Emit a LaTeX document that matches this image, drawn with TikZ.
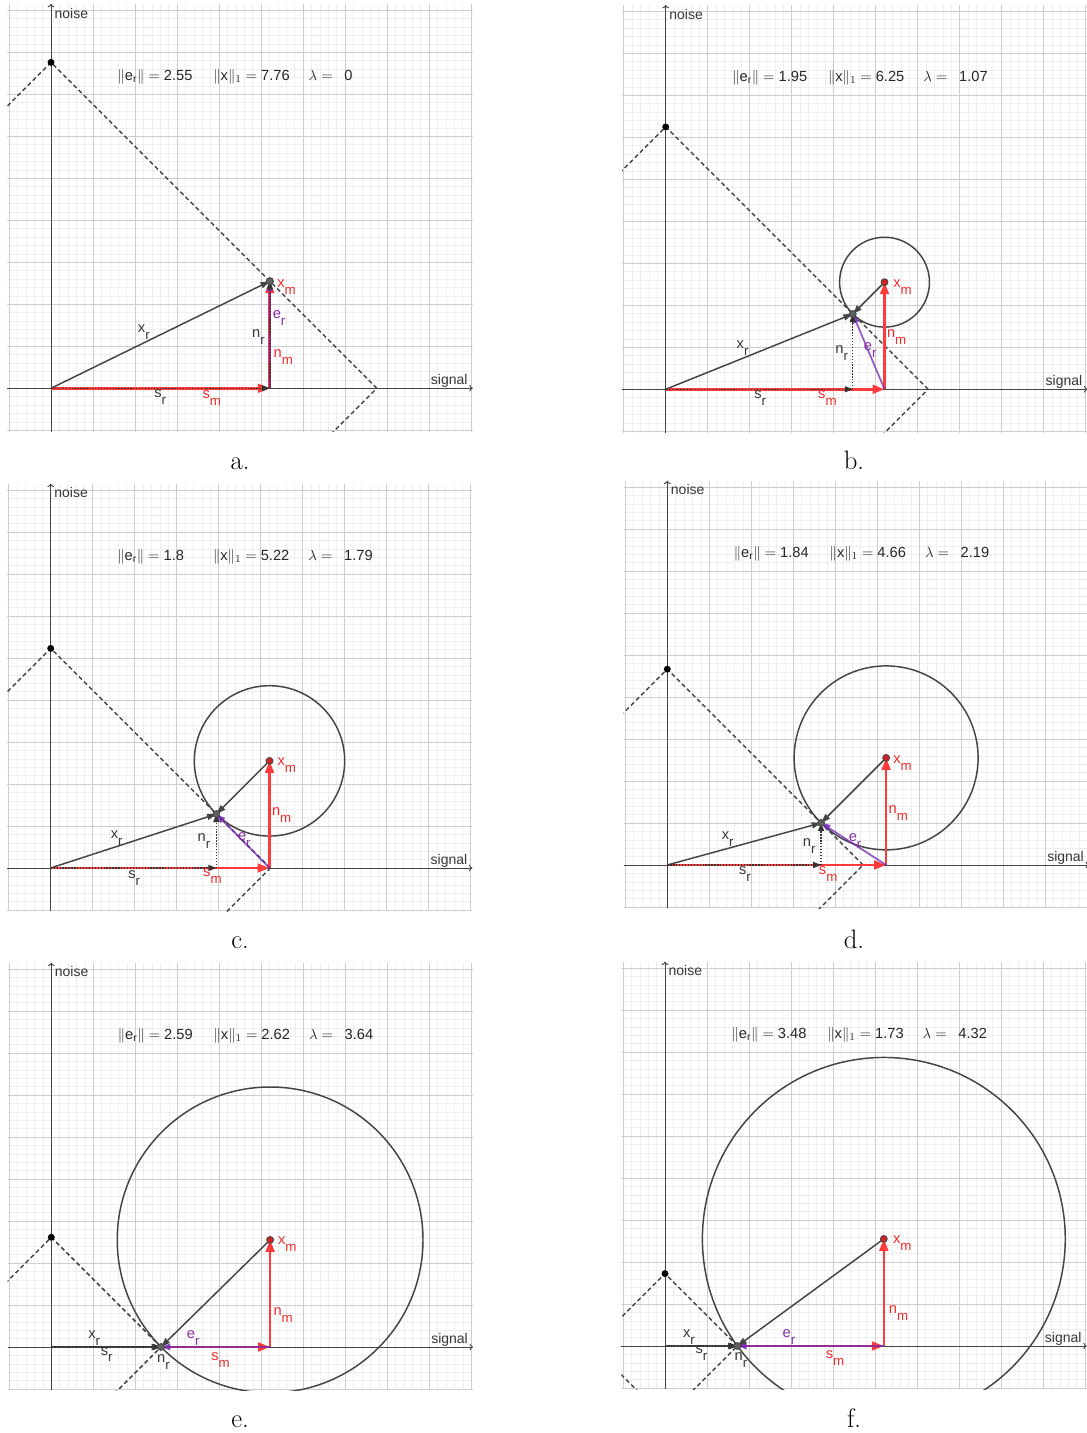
\documentclass[tikz,border=0pt]{standalone}
\usepackage{fontspec}
\setsansfont{Liberation Sans}
\usetikzlibrary{arrows.meta}
\definecolor{redC}{RGB}{255,58,58}
\definecolor{purC}{RGB}{112,38,178}
\definecolor{grayC}{RGB}{68,68,68}
\definecolor{majC}{RGB}{205,205,205}
\definecolor{minC}{RGB}{238,238,238}
\definecolor{labR}{RGB}{238,45,45}
\definecolor{labP}{RGB}{135,45,165}
\definecolor{labG}{RGB}{55,55,55}
\definecolor{ptR}{RGB}{205,35,35}
\newcommand\sbs[2]{#1\raisebox{-0.9ex}{\fontsize{10}{10}\selectfont #2}}
\tikzset{
 minorgrid/.style={draw=minC, line width=0.35pt},
 majorgrid/.style={draw=majC, line width=0.65pt},
 axisline/.style={draw=grayC, line width=0.7pt, -{To[length=2.5pt,width=5pt]}},
 diam/.style={draw=grayC, line width=1.1pt, dash pattern=on 3.2pt off 2.2pt},
 circ/.style={draw=grayC, line width=1.1pt},
 redvec/.style={draw=redC, line width=2pt, -{Triangle[length=9pt,width=6.5pt]}},
 purvec/.style={draw=purC, line width=1.3pt, opacity=0.75, -{Triangle[length=7pt,width=5pt]}},
 grayvec/.style={draw=grayC, line width=1.1pt, -{Triangle[length=7pt,width=4.6pt]}},
 dotvec/.style={draw=black!80, line width=1.1pt, dash pattern=on 1pt off 1.2pt, -{Triangle[length=6pt,width=4.5pt]}},
 lbl/.style={font=\sffamily\fontsize{11}{13}\selectfont, inner sep=0pt},
 hdr/.style={font=\sffamily\fontsize{11}{13}\selectfont, inner sep=0pt, anchor=base west, text=black!85},
 axlbl/.style={font=\sffamily\fontsize{10.5}{12}\selectfont, inner sep=0pt, anchor=base west, text=labG},
 tag/.style={font=\fontsize{20}{24}\selectfont, inner sep=0pt, anchor=base},
 xmpt/.style={fill=ptR, draw=grayC, line width=0.6pt},
 xrpt/.style={fill=grayC!85, draw=grayC, line width=0.6pt},
}
% #1 L1, #2 lambda
\newcommand\panelbg[2]{%
 \begin{scope}
  \clip (-1.04,-1.03) rectangle (10.04,9.15);
  \draw[minorgrid, step=0.2] (-1.04,-1.03) grid (10.04,9.15);
  \draw[majorgrid, step=1] (-1.04,-1.03) grid (10.04,9.15);
  \draw[diam] (#1,0) -- (0,#1) -- (-#1,0) -- (0,-#1) -- cycle;
  \ifdim #2pt>0pt \draw[circ] (XM) circle[radius=#2]; \fi
 \end{scope}
 \draw[axisline] (-1.04,0) -- (10.04,0);
 \draw[axisline] (0,-1.03) -- (0,9.15);
 \node[axlbl] (noise) at (0.08,8.81) {noise};
 \node[axlbl] (signal) at (9.04,0.08) {signal};
}
% #1 ||e||, #2 ||x||_1, #3 lambda
\newcommand\myheader[3]{%
 \node[hdr] (h1) at (1.58,7.33) {\(\|\)e\textsubscript{r}\(\|={}\)#1};
 \node[hdr] (h2) at (3.86,7.33) {\(\|\)x\(\|_1={}\)#2};
 \node[hdr] (h3) at (6.13,7.33) {\(\lambda={}\)};
 \node[hdr] (h4) at (6.98,7.33) {#3};
}
% coordinates: #1 xr, #2 yr, #3 L1
\newcommand\mypts[3]{%
 \coordinate (O) at (0,0);
 \coordinate (S) at (5.21,0);
 \coordinate (XM) at (5.21,2.55);
 \coordinate (XR) at (#1,#2);
 \coordinate (SR) at (#1,0);
 \coordinate (V) at (0,#3);
}
\newcommand\drawpts{%
 \fill[black] (V) circle[radius=2.6pt];
 \filldraw[xmpt] (XM) circle[radius=2.6pt];
 \filldraw[xrpt] (XR) circle[radius=2.6pt];
}
% labels: positions of x_r, s_r, s_m, n_r, e_r, n_m, x_m
\newcommand\mylabels[7]{%
 \node[lbl, text=labG] (lxr) at (#1) {\sbs{x}{r}};
 \node[lbl, text=labG] (lsr) at (#2) {\sbs{s}{r}};
 \node[lbl, text=labR] (lsm) at (#3) {\sbs{s}{m}};
 \node[lbl, text=labG] (lnr) at (#4) {\sbs{n}{r}};
 \node[lbl, text=labP] (ler) at (#5) {\sbs{e}{r}};
 \node[lbl, text=labR] (lnm) at (#6) {\sbs{n}{m}};
 \node[lbl, text=labR] (lxm) at (#7) {\sbs{x}{m}};
}
\begin{document}
\begin{tikzpicture}
\useasboundingbox (0,0) rectangle (815.25pt,1074.75pt);
\fill[white] (0,0) rectangle (815.25pt,1074.75pt);

% ---------- a ----------
\begin{scope}[shift={({0.75pt*51},{0.75pt*(1433-388.3)})}, x=31.5pt, y=31.5pt, name prefix=a-]
 \mypts{5.21}{2.55}{7.76}
 \panelbg{7.76}{0}
 \draw[redvec] (O) -- (S);
 \draw[redvec] (S) -- (XM);
 \draw[purvec] (S) -- (XR);
 \draw[grayvec] (O) -- (XR);
 \draw[dotvec] (O) -- (SR);
 \draw[dotvec] (SR) -- (XR);
 \drawpts
 \myheader{2.55}{7.76}{0}
 \mylabels{2.21,1.33}{2.6,-0.2}{3.83,-0.23}{4.94,1.23}{5.43,1.68}{5.53,0.75}{5.61,2.42}
\end{scope}

% ---------- b ----------
\begin{scope}[shift={({0.75pt*665.7},{0.75pt*(1433-389.3)})}, x=31.5pt, y=31.5pt, name prefix=b-]
 \mypts{4.4534}{1.7934}{6.2468}
 \panelbg{6.2468}{1.07}
 \draw[redvec] (O) -- (S);
 \draw[redvec] (S) -- (XM);
 \draw[purvec] (S) -- (XR);
 \draw[grayvec] (O) -- (XR);
 \draw[grayvec] (XM) -- (XR);
 \draw[dotvec] (O) -- (SR);
 \draw[dotvec] (SR) -- (XR);
 \drawpts
 \myheader{1.95}{6.25}{1.07}
 \mylabels{1.83,0.98}{2.25,-0.21}{3.85,-0.21}{4.19,0.86}{4.87,0.94}{5.5,1.24}{5.64,2.43}
\end{scope}

% ---------- c ----------
\begin{scope}[shift={({0.75pt*50.7},{0.75pt*(1433-868)})}, x=31.5pt, y=31.5pt, name prefix=c-]
 \mypts{3.9443}{1.2843}{5.2286}
 \panelbg{5.2286}{1.79}
 \draw[redvec] (O) -- (S);
 \draw[redvec] (S) -- (XM);
 \draw[purvec] (S) -- (XR);
 \draw[grayvec] (O) -- (XR);
 \draw[grayvec] (XM) -- (XR);
 \draw[dotvec] (O) -- (SR);
 \draw[dotvec] (SR) -- (XR);
 \drawpts
 \myheader{1.8}{5.22}{1.79}
 \mylabels{1.57,0.71}{1.99,-0.24}{3.85,-0.2}{3.65,0.63}{4.61,0.67}{5.5,1.25}{5.62,2.44}
\end{scope}

% ---------- d ----------
\begin{scope}[shift={({0.75pt*667.3},{0.75pt*(1433-865)})}, x=31.5pt, y=31.5pt, name prefix=d-]
 \mypts{3.6614}{1.0014}{4.6628}
 \panelbg{4.6628}{2.19}
 \draw[redvec] (O) -- (S);
 \draw[redvec] (S) -- (XM);
 \draw[purvec] (S) -- (XR);
 \draw[grayvec] (O) -- (XR);
 \draw[grayvec] (XM) -- (XR);
 \draw[dotvec] (O) -- (SR);
 \draw[dotvec] (SR) -- (XR);
 \drawpts
 \myheader{1.84}{4.66}{2.19}
 \mylabels{1.44,0.61}{1.85,-0.22}{3.83,-0.22}{3.38,0.45}{4.47,0.57}{5.5,1.23}{5.6,2.42}
\end{scope}

% ---------- e ----------
\begin{scope}[shift={({0.75pt*51.3},{0.75pt*(1433-1347)})}, x=31.5pt, y=31.5pt, name prefix=e-]
 \mypts{2.6125}{0}{2.6125}
 \panelbg{2.6125}{3.64}
 \draw[redvec] (O) -- (S);
 \draw[redvec] (S) -- (XM);
 \draw[purvec] (S) -- (XR);
 \draw[grayvec] (O) -- (XR);
 \draw[grayvec] (XM) -- (XR);
 \draw[dotvec] (O) -- (SR);
 \drawpts
 \myheader{2.59}{2.62}{3.64}
 \mylabels{1.02,0.21}{1.32,-0.18}{4.03,-0.3}{2.67,-0.36}{3.38,0.21}{5.52,0.77}{5.62,2.44}
\end{scope}

% ---------- f ----------
\begin{scope}[shift={({0.75pt*665},{0.75pt*(1433-1346)})}, x=31.5pt, y=31.5pt, name prefix=f-]
 \mypts{1.7229}{0}{1.7229}
 \panelbg{1.7229}{4.32}
 \draw[redvec] (O) -- (S);
 \draw[redvec] (S) -- (XM);
 \draw[purvec] (S) -- (XR);
 \draw[grayvec] (O) -- (XR);
 \draw[grayvec] (XM) -- (XR);
 \draw[dotvec] (O) -- (SR);
 \drawpts
 \myheader{3.48}{1.73}{4.32}
 \mylabels{0.57,0.22}{0.87,-0.17}{4.05,-0.29}{1.81,-0.33}{2.95,0.22}{5.56,0.78}{5.65,2.44}
\end{scope}

% ---------- panel tags ----------
\node[tag] (ta) at ({0.75pt*240},{0.75pt*(1433-470)}) {a.};
\node[tag] (tb) at ({0.75pt*854},{0.75pt*(1433-470)}) {b.};
\node[tag] (tc) at ({0.75pt*240},{0.75pt*(1433-949)}) {c.};
\node[tag] (td) at ({0.75pt*854},{0.75pt*(1433-949)}) {d.};
\node[tag] (te) at ({0.75pt*240},{0.75pt*(1433-1428)}) {e.};
\node[tag] (tf) at ({0.75pt*854},{0.75pt*(1433-1427)}) {f.};
\end{tikzpicture}
\end{document}
